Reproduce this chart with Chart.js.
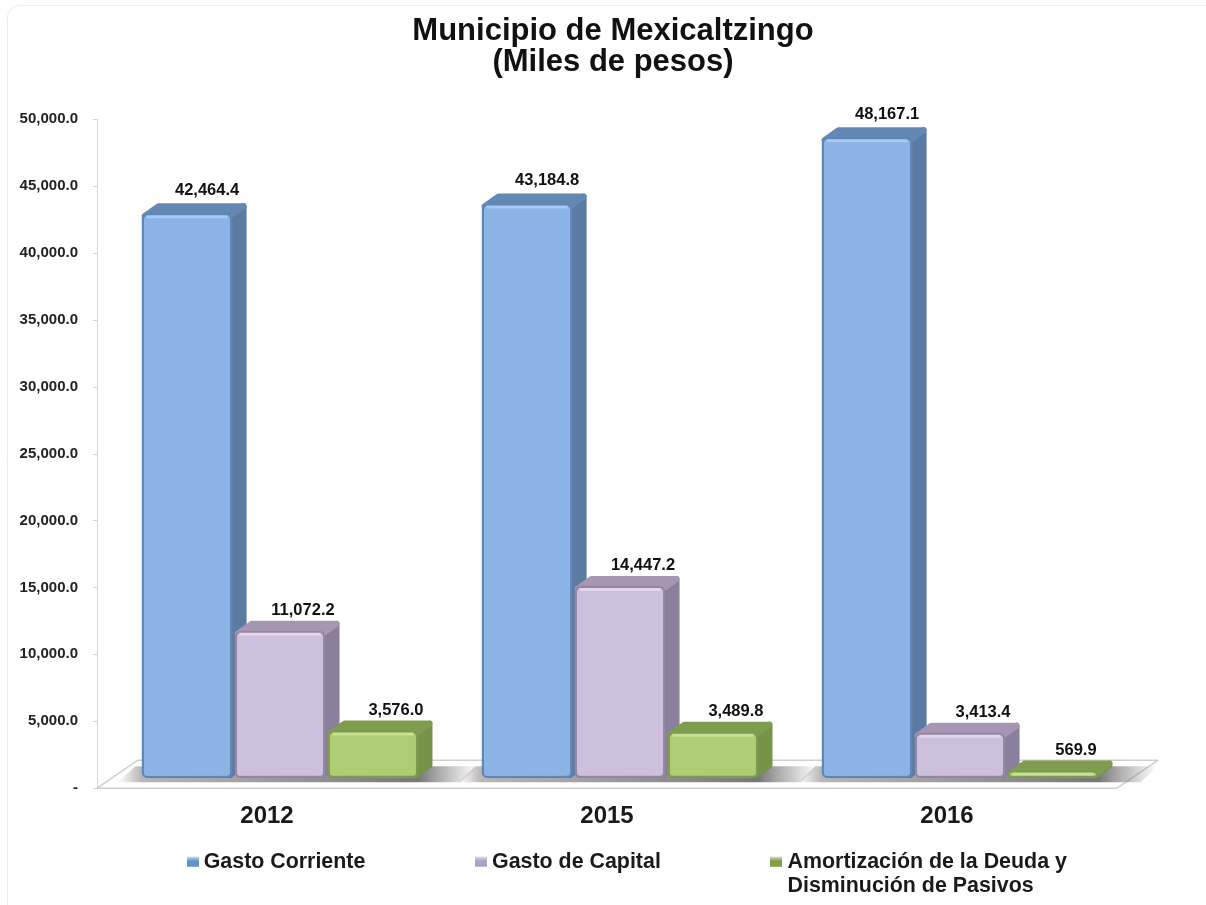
<!DOCTYPE html>
<html>
<head>
<meta charset="utf-8">
<title>Municipio de Mexicaltzingo</title>
<script src="https://cdn.jsdelivr.net/npm/chart.js@4/dist/chart.umd.min.js"></script>
<style>
  html, body { margin: 0; padding: 0; background: #fff; }
  canvas { display: block; }
</style>
</head>
<body>
<canvas id="myChart" width="1206" height="905"></canvas>
<script>
let years = ['2012', '2015', '2016'];
let gastoCorriente = [42464.4, 43184.8, 48167.1];
let gastoCapital = [11072.2, 14447.2, 3413.4];
let amortizacion = [3576.0, 3489.8, 569.9];
let seriesNames = ['Gasto Corriente', 'Gasto de Capital', 'Amortización de la Deuda y Disminución de Pasivos'];
let legendLines = ['Gasto Corriente', 'Gasto de Capital', ['Amortización de la Deuda y', 'Disminución de Pasivos']];
let titleLines = ['Municipio de Mexicaltzingo', '(Miles de pesos)'];

let frontColor = ['#8bb3e6', '#ccc0de', '#afcd75'];
let edgeColor = ['#5f86b8', '#93869f', '#7d9a50'];
let topColor = ['#6488b4', '#a596b3', '#7f9d4f'];
let sideColor = ['#5b7ba3', '#8b7f9e', '#76934a'];
let shineColor = ['#a9c9f2', '#e0d6ee', '#c8e094'];
let markerColor = ['#5f93c9', '#a9a4c4', '#7ea03f'];

const FONT = '"Liberation Sans", Arial, sans-serif';
const DEPTH_X = 14;
const DEPTH_Y = -10;

function fmt(value){
  return value.toLocaleString('en-US', {minimumFractionDigits: 1, maximumFractionDigits: 1});
}

// small gradient square used as the legend symbol
function makeMarker(color){
  let c = document.createElement('canvas');
  c.width = 12;
  c.height = 12;
  let g = c.getContext('2d');
  let grad = g.createLinearGradient(0, 0, 0, 12);
  grad.addColorStop(0, '#dfe6ee');
  grad.addColorStop(0.45, color);
  grad.addColorStop(1, color);
  g.fillStyle = grad;
  g.fillRect(0, 1, 12, 10);
  return c;
}
let markers = markerColor.map(makeMarker);

function polygon(ctx, pts, fill, stroke, width){
  ctx.beginPath();
  pts.forEach((p, i) => i ? ctx.lineTo(p[0], p[1]) : ctx.moveTo(p[0], p[1]));
  ctx.closePath();
  if(fill){
    ctx.fillStyle = fill;
    ctx.fill();
  }
  if(stroke){
    ctx.strokeStyle = stroke;
    ctx.lineWidth = width || 1;
    ctx.lineJoin = 'round';
    ctx.stroke();
  }
}

// card, wall line, floor and floor shadows: everything behind the bars
let stagePlugin = {
  id: 'stage',
  afterLayout(chart){
    // title and legend are placed by hand, the reference is not centred on the canvas
    chart.titleBlock.left += 10;
    chart.titleBlock.right += 10;
    chart.legend.left = 192 - chart.legend.options.labels.padding;
    chart.legend.right = 5000;
    chart.legend.top = 736;
  },
  beforeDraw(chart){
    let ctx = chart.ctx;
    ctx.save();
    ctx.fillStyle = '#fff';
    ctx.fillRect(0, 0, chart.width, chart.height);
    ctx.beginPath();
    ctx.roundRect(7.5, 5.5, 1250, 950, 12);
    ctx.strokeStyle = '#ececec';
    ctx.lineWidth = 1;
    ctx.stroke();
    ctx.restore();
  },
  beforeDatasetsDraw(chart){
    let ctx = chart.ctx;
    let yAxis = chart.scales.y;
    let wallX = chart.chartArea.left - 13;
    let floorY = yAxis.getPixelForValue(0);
    let floorW = chart.chartArea.width;
    ctx.save();

    // wall line and its tick marks
    ctx.strokeStyle = '#d6d6d6';
    ctx.lineWidth = 1;
    ctx.beginPath();
    ctx.moveTo(wallX + 0.5, yAxis.top);
    ctx.lineTo(wallX + 0.5, floorY);
    yAxis.ticks.forEach(t => {
      let py = Math.round(yAxis.getPixelForValue(t.value)) + 0.5;
      ctx.moveTo(wallX - 4, py);
      ctx.lineTo(wallX, py);
    });
    ctx.stroke();

    // floor
    polygon(ctx, [
      [wallX, floorY],
      [wallX + floorW, floorY],
      [wallX + floorW + 41, floorY - 28],
      [wallX + 41, floorY - 28]
    ], '#fff', '#cfcfcf', 1.5);

    // soft shadow on the floor round each group
    let first = chart.getDatasetMeta(0).data;
    let last = chart.getDatasetMeta(2).data;
    first.forEach((bar, i) => {
      let x0 = bar.x - bar.width / 2;
      let x1 = last[i].x + last[i].width / 2;
      let grad = ctx.createLinearGradient(x0 - 24, 0, x1 + 60, 0);
      let span = x1 + 60 - (x0 - 24);
      grad.addColorStop(0, 'rgba(140,130,130,0)');
      grad.addColorStop(24 / span, 'rgba(130,120,120,0.55)');
      grad.addColorStop((x1 - x0 + 24) / span, 'rgba(85,85,85,0.8)');
      grad.addColorStop(1, 'rgba(120,120,120,0)');
      polygon(ctx, [
        [x0 - 24, floorY - 6],
        [x1 + 42, floorY - 6],
        [x1 + 60, floorY - 22],
        [x0 - 6, floorY - 22]
      ], grad);
    });

    // top and side faces of each bar, left to right so later bars cover earlier sides
    chart.data.datasets.forEach((ds, d) => {
      chart.getDatasetMeta(d).data.forEach(bar => {
        let l = bar.x - bar.width / 2;
        let r = bar.x + bar.width / 2;
        let y = bar.y + 3;
        polygon(ctx, [
          [r - 3, y],
          [r + DEPTH_X - 3, y + DEPTH_Y],
          [r + DEPTH_X - 3, bar.base + DEPTH_Y - 3],
          [r - 3, bar.base - 3]
        ], sideColor[d], sideColor[d], 6);
        polygon(ctx, [
          [l + 3, y],
          [l + 3 + DEPTH_X, y + DEPTH_Y],
          [r + DEPTH_X - 3, y + DEPTH_Y],
          [r - 3, y]
        ], topColor[d], topColor[d], 6);
      });
    });
    ctx.restore();
  },
  afterDatasetsDraw(chart){
    let ctx = chart.ctx;
    ctx.save();
    chart.data.datasets.forEach((ds, d) => {
      chart.getDatasetMeta(d).data.forEach((bar, i) => {
        let l = bar.x - bar.width / 2;
        let r = bar.x + bar.width / 2;
        // bevel highlight along the top of the front face
        ctx.strokeStyle = shineColor[d];
        ctx.lineWidth = 3;
        ctx.beginPath();
        ctx.moveTo(l + 5, bar.y + 3.5);
        ctx.lineTo(r - 5, bar.y + 3.5);
        ctx.stroke();
        // value label, the tall blue bars carry theirs a bit higher and further left
        ctx.fillStyle = '#111';
        ctx.font = 'bold 16.5px ' + FONT;
        ctx.textAlign = 'center';
        ctx.textBaseline = 'middle';
        let labelX = bar.x + (d === 0 ? 20 : 23);
        let labelY = bar.y + DEPTH_Y - (d === 0 ? 13 : 10);
        ctx.fillText(fmt(ds.data[i]), labelX, labelY);
      });
    });
    ctx.restore();
  }
};

let ctx = document.getElementById('myChart').getContext('2d');
let myChart = new Chart(ctx, {
  type: 'bar',
  plugins: [stagePlugin],
  data: {
    labels: years,
    datasets: [gastoCorriente, gastoCapital, amortizacion].map((values, d) => ({
      label: seriesNames[d],
      data: values,
      yAxisID: 'y2',
      backgroundColor: frontColor[d],
      borderColor: edgeColor[d],
      borderWidth: 2.5,
      borderRadius: 6,
      borderSkipped: false,
      barPercentage: 0.98,
      categoryPercentage: 0.82
    }))
  },
  options: {
    responsive: false,
    animation: false,
    layout: { padding: 0 },
    plugins: {
      tooltip: { enabled: false },
      title: {
        display: true,
        text: titleLines,
        color: '#111',
        font: { family: FONT, size: 31, weight: 'bold', lineHeight: 1.03 },
        padding: { top: 15, bottom: 40 }
      },
      legend: {
        position: 'bottom',
        align: 'start',
        maxHeight: 68,
        labels: {
          color: '#1a1a1a',
          font: { family: FONT, size: 21.4, weight: 'bold', lineHeight: 1.12 },
          padding: 115,
          usePointStyle: true,
          pointStyleWidth: 1,
          boxHeight: 12,
          generateLabels(){
            return legendLines.map((text, i) => ({
              text: text,
              fontColor: '#1a1a1a',
              pointStyle: markers[i],
              datasetIndex: i,
              lineWidth: 0
            }));
          }
        }
      }
    },
    scales: {
      x: {
        grid: { display: false },
        border: { display: false },
        ticks: {
          color: '#1a1a1a',
          labelOffset: -13,
          padding: 6,
          font: { family: FONT, size: 24, weight: 'bold' }
        }
      },
      // printed axis: floor front edge up to the top tick
      y: {
        min: 0,
        max: 50000,
        afterFit(scale){ scale.width = 110; },
        grid: { display: false, drawTicks: false },
        border: { display: false },
        ticks: {
          stepSize: 5000,
          color: '#222',
          padding: 32,
          font: { family: FONT, size: 15, weight: 'bold' },
          callback: value => value === 0 ? '-' : fmt(value)
        }
      },
      // axis the bars stand on: zero is on the floor, 10px above the printed zero
      y2: {
        position: 'right',
        min: -752,
        max: 49549,
        afterFit(scale){ scale.width = 76; },
        grid: { display: false, drawTicks: false },
        border: { display: false },
        ticks: { display: false }
      }
    }
  }
});
</script>
</body>
</html>
